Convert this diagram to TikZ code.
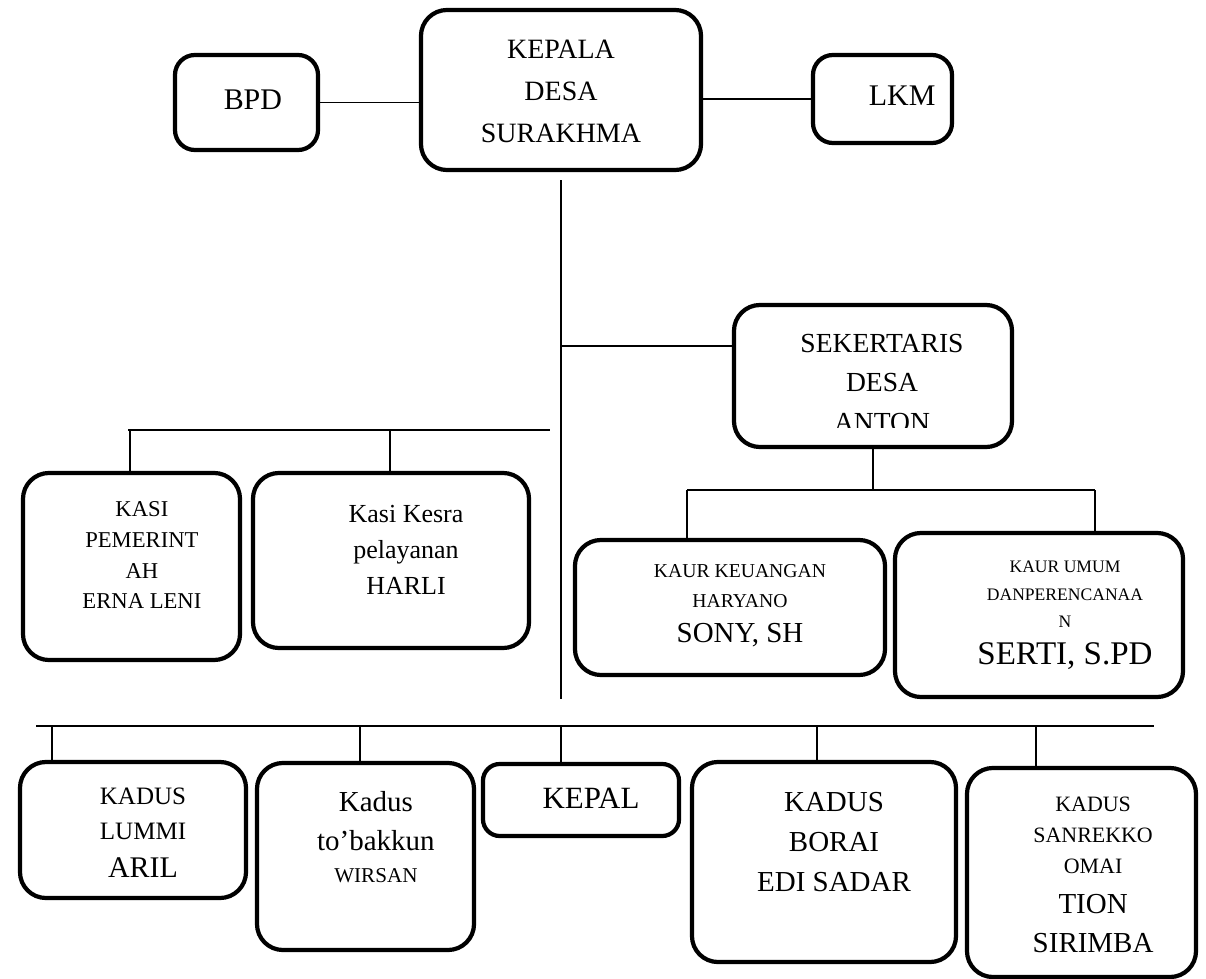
\documentclass[tikz,border=0pt]{standalone}
\usepackage{fontspec}
\setmainfont{Liberation Serif}
\usetikzlibrary{positioning,calc}
\tikzset{main base/.style={draw,line width=3pt,fill=white}, }
\tikzset{main node/.style={rectangle,rounded corners=0.65cm,main base,inner sep=0pt}, }
\tikzset{box/.style 2 args={main node,minimum width=#1cm,minimum height=#2cm}, }
\tikzset{main text/.style={inner sep=0pt,align=center}, }
\tikzset{linea/.style={draw,line width=1.2pt}}

\begin{document}
\begin{tikzpicture}[x=0.025cm,y=-0.025cm]
  \useasboundingbox (0,0) rectangle (1206,979);
  % kotak
  \node[box={7}{4}] (1) at (561,90) {};
  \node[box={3.575}{2.375},rounded corners=0.5cm] (2) at (246.5,102.5) {};
  \node[box={3.475}{2.2},rounded corners=0.5cm] (3) at (882.5,99) {};
  \node[box={6.95}{3.55}] (4) at (873,376) {};
  \node[box={5.425}{4.675}] (5) at (131.5,566.5) {};
  \node[box={6.9}{4.375}] (6) at (391,560.5) {};
  \node[box={7.75}{3.375}] (7) at (730,607.5) {};
  \node[box={7.2}{4.1}] (8) at (1039,615) {};
  \node[box={5.65}{3.4}] (9) at (133,830) {};
  \node[box={5.425}{4.675}] (10) at (365.5,856.5) {};
  \node[box={4.9}{1.8},rounded corners=0.42cm] (11) at (581,800) {};
  \node[box={6.6}{5}] (12) at (824,862) {};
  \node[box={5.725}{5.225}] (13) at (1081.5,872.5) {};
  % teks
  \node[main text,font=\fontsize{19.9}{29.9}\selectfont] (t1) [below=0.8cm of 1.north] {KEPALA\\DESA\\SURAKHMA};
  \node[main text,font=\fontsize{21.3}{26}\selectfont] (t2) [below=0.925cm of 2.north,xshift=0.16cm] {BPD};
  \node[main text,font=\fontsize{21.3}{26}\selectfont] (t3) [below=0.825cm of 3.north,xshift=0.49cm] {LKM};
  \begin{scope}
    \clip (734,305) rectangle (1012,427);
    \node[main text,font=\fontsize{19.6}{28}\selectfont] (t4) [below=0.78cm of 4.north,xshift=0.225cm] {SEKERTARIS\\DESA\\ANTON};
  \end{scope}
  \node[main text,font=\fontsize{16.1}{22}\selectfont] (t5) [below=0.75cm of 5.north,xshift=0.26cm] {KASI\\PEMERINT\\AH\\ERNA LENI};
  \node[main text,font=\fontsize{18.5}{25.6}\selectfont] (t6) [below=0.85cm of 6.north,xshift=0.375cm] {Kasi Kesra\\pelayanan\\HARLI};
  \node[main text,font=\fontsize{14}{21.3}\selectfont] (t7) [below=0.65cm of 7.north,xshift=0.25cm] {KAUR KEUANGAN\\HARYANO\\[3.6pt]\fontsize{20.6}{25}\selectfont SONY, SH};
  \node[main text,font=\fontsize{12.5}{19.6}\selectfont] (t8) [below=0.75cm of 8.north,xshift=0.65cm] {KAUR UMUM\\DANPERENCANAA\\N\\[6.7pt]\fontsize{23.5}{28}\selectfont SERTI, S.PD};
  \node[main text,font=\fontsize{17.8}{24.9}\selectfont] (t9) [below=0.7cm of 9.north,xshift=0.25cm] {KADUS\\LUMMI\\[2pt]\fontsize{21.3}{26}\selectfont ARIL};
  \node[main text,font=\fontsize{20.6}{27.7}\selectfont] (t10) [below=0.75cm of 10.north,xshift=0.26cm] {Kadus\\to’bakkun\\[-5pt]\fontsize{15}{18}\selectfont WIRSAN};
  \node[main text,font=\fontsize{22}{26}\selectfont] (t11) [below=0.65cm of 11.north,xshift=0.25cm] {KEPAL};
  \node[main text,font=\fontsize{20.6}{28.5}\selectfont] (t12) [below=0.8cm of 12.north,xshift=0.25cm] {KADUS\\BORAI\\EDI SADAR};
  \node[main text,font=\fontsize{15.6}{22}\selectfont] (t13) [below=0.775cm of 13.north,xshift=0.29cm] {KADUS\\SANREKKO\\OMAI\\[6.5pt]\fontsize{20.6}{27}\selectfont TION\\[5.7pt]\fontsize{20.6}{27}\selectfont SIRIMBA};
  % garis
  \coordinate (k1) at (561,699);
  \coordinate (k2) at (561,346);
  \coordinate (c1) at (128,430);
  \coordinate (c2) at (550,430);
  \coordinate (c3) at (130,430);
  \coordinate (c4) at (390,430);
  \coordinate (b1) at (873,490);
  \coordinate (b2) at (687,490);
  \coordinate (b3) at (1095,490);
  \coordinate (d0) at (36,726);
  \coordinate (d6) at (1154,726);
  \coordinate (d1) at (52,726);
  \coordinate (d2) at (360,726);
  \coordinate (d3) at (561,726);
  \coordinate (d4) at (817,726);
  \coordinate (d5) at (1036,726);
  \draw[linea,shorten <=0.2cm] (1.south) -- (k1);
  \draw[linea] (k2) -- (k2 -| 4.west);
  \draw[linea] (2.east) -- (2.east -| 1.west);
  \draw[linea] (3.west) -- (3.west -| 1.east);
  \draw[linea] (c1) -- (c2);
  \draw[linea] (4.south) -- (b1);
  \draw[linea] (b2) -- (b3);
  \draw[linea] (d0) -- (d6);
  \foreach \x/\y in {c3/5,c4/6,b2/7,b3/8,d1/9,d2/10,d3/11,d4/12,d5/13}
    \path[linea] (\x) edge (\x |- \y.north);
\end{tikzpicture}
\end{document}
